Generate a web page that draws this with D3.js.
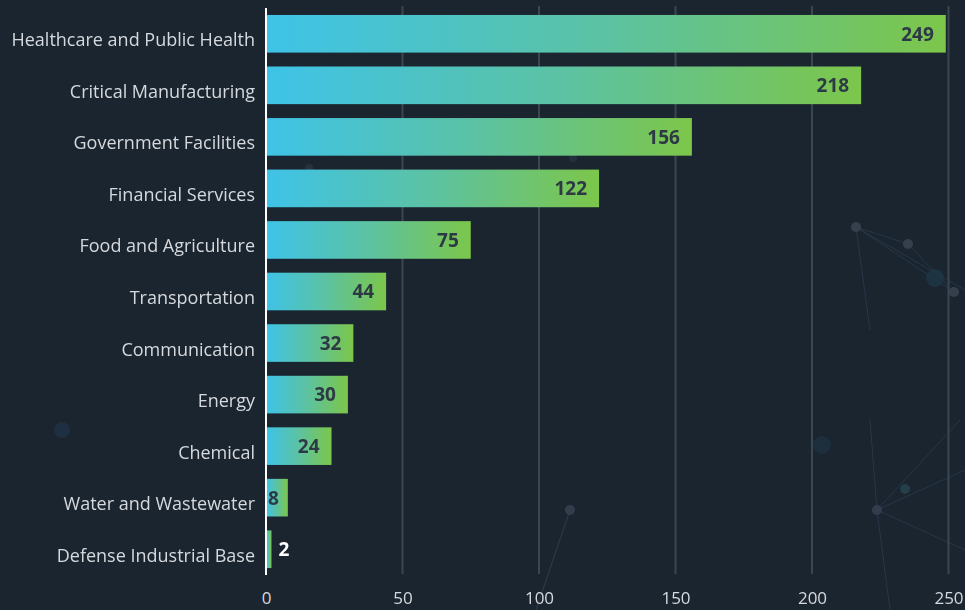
<!DOCTYPE html>
<html>
<head>
<meta charset="utf-8">
<script src="https://cdn.jsdelivr.net/npm/d3@7"></script>
<style>
  html, body { margin: 0; padding: 0; background: #1b2530; overflow: hidden; }
  svg { display: block; }
</style>
</head>
<body>
<svg id="chart" width="965" height="610"></svg>
<script>
const categories = [
  "Healthcare and Public Health",
  "Critical Manufacturing",
  "Government Facilities",
  "Financial Services",
  "Food and Agriculture",
  "Transportation",
  "Communication",
  "Energy",
  "Chemical",
  "Water and Wastewater",
  "Defense Industrial Base"
];
const values = [249, 218, 156, 122, 75, 44, 32, 30, 24, 8, 2];
const tickValues = [0, 50, 100, 150, 200, 250];

const width = 965, height = 610;
const svg = d3.select("#chart");
const font = "'Open Sans', 'DejaVu Sans', sans-serif";

svg.append("rect").attr("width", width).attr("height", height).attr("fill", "#1b2530");

// decorative background network (faint)
const deco = svg.append("g").attr("opacity", 0.9);
deco.append("line").attr("x1",570).attr("y1",510).attr("x2",536).attr("y2",610).attr("stroke","#2c3b4c").attr("stroke-width",1.2);
[[877,510,965,470],[877,510,965,550],[877,510,960,420],[877,510,890,610],[877,510,870,420],[856,227,965,290],[856,227,870,330],[856,227,908,244],[908,244,954,292],[856,227,954,292]].forEach(l => {
  deco.append("line").attr("x1",l[0]).attr("y1",l[1]).attr("x2",l[2]).attr("y2",l[3]).attr("stroke","#283a4c").attr("stroke-width",1);
});
[[856,227,5,"#3a4450"],[908,244,5,"#3a4450"],[954,292,5,"#3a4450"],[570,510,5,"#364050"],[877,510,5,"#364050"],[309,168,4,"#2a3540"],[573,158,4,"#243444"]].forEach(n => {
  deco.append("circle").attr("cx",n[0]).attr("cy",n[1]).attr("r",n[2]).attr("fill",n[3]);
});
[[905,489,5,"#2a4a55"],[62,430,8,"#213548"],[822,445,9,"#1f3442"],[935,278,9,"#1f3a4a"]].forEach(n => {
  deco.append("circle").attr("cx",n[0]).attr("cy",n[1]).attr("r",n[2]).attr("fill",n[3]).attr("opacity",0.8);
});

const x = d3.scaleLinear().domain([0, 250]).range([266, 948.5]);
const y = d3.scaleBand().domain(categories).range([8, 575]).paddingInner(0.27).paddingOuter(0.135);

const defs = svg.append("defs");
const grad = defs.append("linearGradient").attr("id", "barGrad")
  .attr("x1", "0%").attr("x2", "100%").attr("y1", "0%").attr("y2", "0%");
grad.append("stop").attr("offset", "0%").attr("stop-color", "#3ec3e8");
grad.append("stop").attr("offset", "50%").attr("stop-color", "#5cc2a2");
grad.append("stop").attr("offset", "100%").attr("stop-color", "#7cc64a");

// gridlines
svg.append("g").selectAll("line").data(tickValues.filter(d => d > 0)).join("line")
  .attr("x1", d => x(d)).attr("x2", d => x(d))
  .attr("y1", 6).attr("y2", 574)
  .attr("stroke", "#3a4652").attr("stroke-width", 2);

// x axis tick labels
const xAxis = d3.axisBottom(x).tickValues(tickValues).tickSize(0).tickPadding(0);
const xg = svg.append("g").attr("transform", "translate(0,592)").call(xAxis);
xg.select(".domain").remove();
xg.selectAll("text").attr("fill", "#d5d9dd").attr("font-size", 17).attr("font-family", font).attr("dy", "0.71em");

// bars
svg.append("g").selectAll("rect").data(values).join("rect")
  .attr("x", x(0))
  .attr("y", (d, i) => y(categories[i]))
  .attr("width", d => x(d) - x(0))
  .attr("height", y.bandwidth())
  .attr("fill", "url(#barGrad)");

// zero axis line
svg.append("line").attr("x1", x(0)).attr("x2", x(0)).attr("y1", 8).attr("y2", 575)
  .attr("stroke", "#ffffff").attr("stroke-width", 2);

// y axis labels
const yAxis = d3.axisLeft(y).tickSize(0).tickPadding(11);
const yg = svg.append("g").attr("transform", `translate(${x(0)},6)`).call(yAxis);
yg.select(".domain").remove();
yg.selectAll("text").attr("fill", "#d5d9dd").attr("font-size", 18).attr("font-family", font).attr("dy", "0.36em");

// value labels
const inside = d => (x(d) - x(0) > 20);
const labels = svg.append("g").selectAll("text").data(values).join("text")
  .attr("y", (d, i) => y(categories[i]) + y.bandwidth() / 2)
  .attr("dy", "0.36em")
  .attr("font-family", font)
  .attr("font-weight", "bold")
  .attr("font-size", 19)
  .attr("fill", d => inside(d) ? "#2d3a46" : "#ffffff")
  .text(d => d);
labels.each(function(d) {
  const w = this.getComputedTextLength();
  const xs = inside(d) ? Math.max(x(d) - 12 - w, x(0) + 2) : x(d) + 7;
  d3.select(this).attr("x", xs);
});
</script>
</body>
</html>
